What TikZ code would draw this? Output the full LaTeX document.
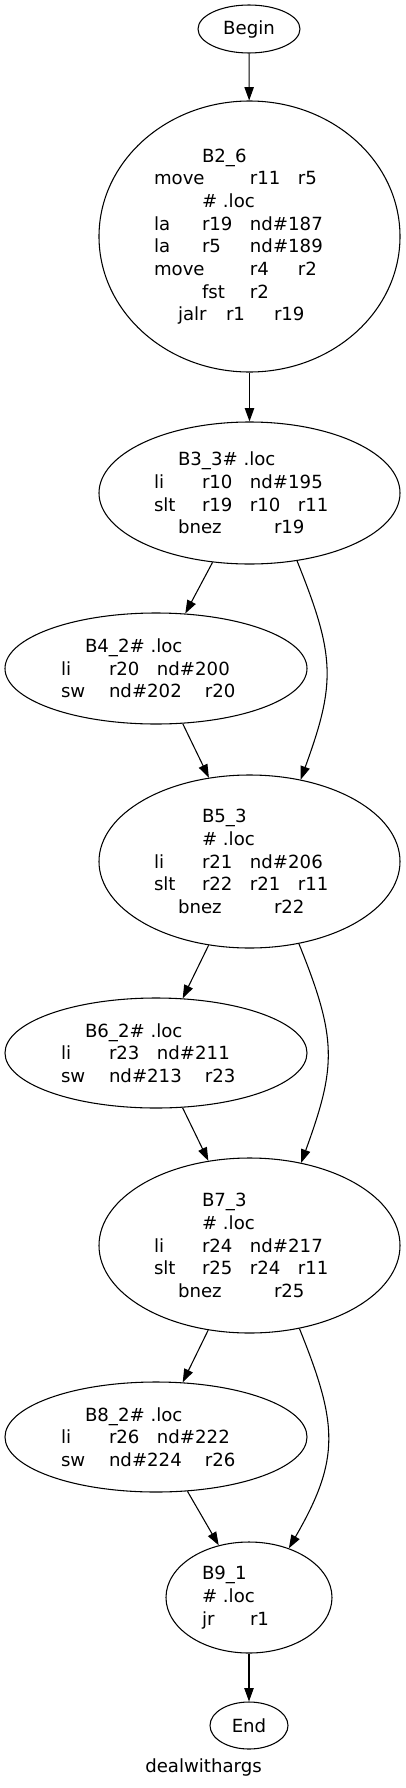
\documentclass[tikz,border=0pt]{standalone}
\usepackage{fontspec}
\setmainfont{DejaVu Sans}
\usetikzlibrary{shapes.geometric, arrows.meta, positioning}
\newlength{\tabw}
\setlength{\tabw}{36pt}
% text at a tab column, and a line of given width
\newcommand{\tcol}[2]{\makebox[0pt][l]{\hspace*{#1\tabw}#2}}
\newcommand{\tline}[2]{\makebox[#1pt][l]{#2}}
\tikzset{
    block/.style={
        ellipse,
        draw,
        line width=0.8pt,
        inner sep=0pt,
        align=center,
        font=\fontsize{13.6}{17}\selectfont
    },
    caption/.style={
        font=\fontsize{13.6}{17}\selectfont,
        anchor=base
    },
    connector/.style={
        -{Triangle[length=10pt,width=7pt]},
        line width=0.8pt
    }
}
\begin{document}
\begin{tikzpicture}[x=0.75pt,y=-0.75pt]
\useasboundingbox (0,0) rectangle (405,1788);
\node[block, minimum width=76.5pt, minimum height=36pt] (entry) at (249,29) {Begin};
\node[block, minimum width=225.75pt, minimum height=203.25pt] (b2) at (249.5,236.5) {
    \tline{71.25}{\tcol{0}{B2\_6}}\\
    \tline{143.25}{\tcol{0}{move}\tcol{2}{r11}\tcol{3}{r5}}\\
    \tline{71.25}{\tcol{0}{\# .loc}}\\
    \tline{143.25}{\tcol{0}{la}\tcol{1}{r19}\tcol{2}{nd\#187}}\\
    \tline{143.25}{\tcol{0}{la}\tcol{1}{r5}\tcol{2}{nd\#189}}\\
    \tline{143.25}{\tcol{0}{move}\tcol{2}{r4}\tcol{3}{r2}}\\
    \tline{71.25}{\tcol{0}{fst}\tcol{1}{r2}}\\
    \tline{107.25}{\tcol{0}{jalr}\tcol{1}{r1}\tcol{2}{r19}}
};
\node[block, minimum width=225.75pt, minimum height=106.5pt] (b3) at (249.5,493) {
    \tline{107.25}{\tcol{0}{B3\_3\# .loc}}\\
    \tline{143.25}{\tcol{0}{li}\tcol{1}{r10}\tcol{2}{nd\#195}}\\
    \tline{143.25}{\tcol{0}{slt}\tcol{1}{r19}\tcol{2}{r10}\tcol{3}{r11}}\\
    \tline{107.25}{\tcol{0}{bnez}\tcol{2}{r19}}
};
\node[block, minimum width=226.5pt, minimum height=83.25pt] (b4) at (156,668.5) {
    \tline{106.5}{\tcol{0}{B4\_2\# .loc}}\\
    \tline{142.5}{\tcol{0}{li}\tcol{1}{r20}\tcol{2}{nd\#200}}\\
    \tline{142.5}{\tcol{0}{sw}\tcol{1}{nd\#202}\tcol{3}{r20}}
};
\node[block, minimum width=225.75pt, minimum height=129.75pt] (b5) at (249.5,861.5) {
    \tline{71.25}{\tcol{0}{B5\_3}}\\
    \tline{71.25}{\tcol{0}{\# .loc}}\\
    \tline{143.25}{\tcol{0}{li}\tcol{1}{r21}\tcol{2}{nd\#206}}\\
    \tline{143.25}{\tcol{0}{slt}\tcol{1}{r22}\tcol{2}{r21}\tcol{3}{r11}}\\
    \tline{107.25}{\tcol{0}{bnez}\tcol{2}{r22}}
};
\node[block, minimum width=226.5pt, minimum height=82.5pt] (b6) at (156,1053) {
    \tline{106.5}{\tcol{0}{B6\_2\# .loc}}\\
    \tline{142.5}{\tcol{0}{li}\tcol{1}{r23}\tcol{2}{nd\#211}}\\
    \tline{142.5}{\tcol{0}{sw}\tcol{1}{nd\#213}\tcol{3}{r23}}
};
\node[block, minimum width=225.75pt, minimum height=131.25pt] (b7) at (249.5,1245.5) {
    \tline{71.25}{\tcol{0}{B7\_3}}\\
    \tline{71.25}{\tcol{0}{\# .loc}}\\
    \tline{143.25}{\tcol{0}{li}\tcol{1}{r24}\tcol{2}{nd\#217}}\\
    \tline{143.25}{\tcol{0}{slt}\tcol{1}{r25}\tcol{2}{r24}\tcol{3}{r11}}\\
    \tline{107.25}{\tcol{0}{bnez}\tcol{2}{r25}}
};
\node[block, minimum width=226.5pt, minimum height=82.5pt] (b8) at (156,1437) {
    \tline{106.5}{\tcol{0}{B8\_2\# .loc}}\\
    \tline{142.5}{\tcol{0}{li}\tcol{1}{r26}\tcol{2}{nd\#222}}\\
    \tline{142.5}{\tcol{0}{sw}\tcol{1}{nd\#224}\tcol{3}{r26}}
};
\node[block, minimum width=124.5pt, minimum height=83.25pt] (b9) at (249,1597.5) {
    \tline{70.5}{\tcol{0}{B9\_1}}\\
    \tline{70.5}{\tcol{0}{\# .loc}}\\
    \tline{70.5}{\tcol{0}{jr}\tcol{1}{r1}}
};
\node[block, minimum width=58.5pt, minimum height=35.25pt] (exit) at (249,1725.5) {End};
\node[caption] (title) at (203.5,1772) {dealwithargs};

\path [connector] (entry) edge (b2);
\path [connector] (b2) edge (b3);
\path [connector] (b3) edge (b4);
\path [connector] (b4) edge (b5);
\path [connector] (b3.-55) edge[out=-68, in=70, looseness=1.2] (b5.58);
\path [connector] (b5) edge (b6);
\path [connector] (b6) edge (b7);
\path [connector] (b5.-59) edge[out=-68, in=70, looseness=1.2] (b7.58);
\path [connector] (b7) edge (b8);
\path [connector] (b8) edge (b9);
\path [connector] (b7.-59) edge[out=-68, in=60, looseness=1.2] (b9.51);
\path [connector] (b9) edge (exit);
\end{tikzpicture}
\end{document}
